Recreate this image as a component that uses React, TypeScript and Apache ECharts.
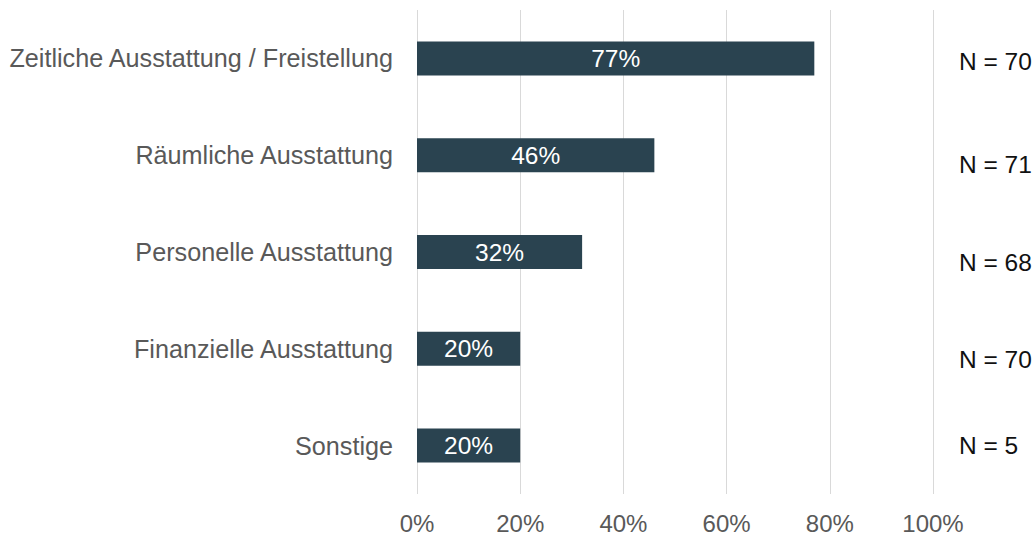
import React, { useEffect, useRef } from "react";
import * as echarts from "echarts";

const categories = [
  "Zeitliche Ausstattung / Freistellung",
  "Räumliche Ausstattung",
  "Personelle Ausstattung",
  "Finanzielle Ausstattung",
  "Sonstige",
];
const values = [77, 46, 32, 20, 20];
const nValues = [70, 71, 68, 70, 5];
const nLabelCenters = [61, 164, 262, 359, 445];

export default function App() {
  const ref = useRef<HTMLDivElement>(null);
  useEffect(() => {
    document.body.style.margin = "0";
    const chart = echarts.init(ref.current!, null, { renderer: "svg" });
    const font = "'Liberation Sans', Arial, sans-serif";
    chart.setOption({
      animation: false,
      grid: { left: 417, right: 102, top: 10, bottom: 40, containLabel: false },
      xAxis: {
        type: "value",
        min: 0,
        max: 100,
        interval: 20,
        axisLine: { show: false },
        axisTick: { show: false },
        splitLine: { show: true, lineStyle: { color: "#d9d9d9", width: 1 } },
        axisLabel: {
          formatter: "{value}%",
          color: "#595959",
          fontSize: 24,
          fontFamily: font,
          margin: 17,
        },
      },
      yAxis: {
        type: "category",
        data: categories,
        inverse: true,
        axisLine: { show: false },
        axisTick: { show: false },
        axisLabel: {
          color: "#595959",
          fontSize: 25.2,
          fontFamily: font,
          margin: 24,
        },
      },
      series: [
        {
          type: "bar",
          data: values,
          barWidth: 34,
          itemStyle: { color: "#2a4350" },
          label: {
            show: true,
            position: "inside",
            formatter: "{c}%",
            color: "#ffffff",
            fontSize: 24.5,
            fontFamily: font,
          },
        },
      ],
      graphic: nValues.map((n, i) => ({
        type: "text",
        x: 959,
        y: nLabelCenters[i],
        style: {
          text: `N = ${n}`,
          fill: "#111111",
          fontSize: 24.5,
          fontFamily: font,
          verticalAlign: "middle",
        },
      })),
    });
    return () => chart.dispose();
  }, []);
  return <div ref={ref} style={{ width: 1035, height: 535 }} />;
}
